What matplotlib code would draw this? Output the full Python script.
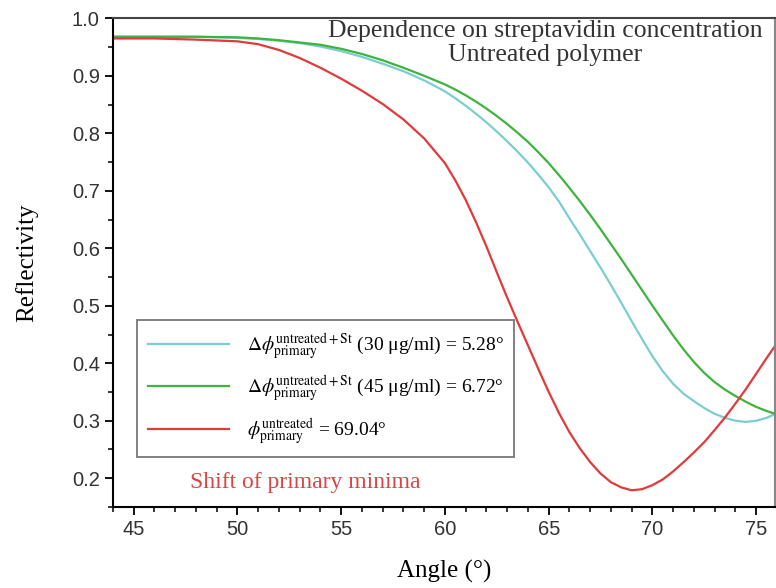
import matplotlib
matplotlib.use('Agg')
import matplotlib.pyplot as plt
from matplotlib.ticker import MultipleLocator

plt.rcParams['font.family'] = ['Liberation Serif', 'DejaVu Serif']
plt.rcParams['mathtext.fontset'] = 'stix'

# angle grid (degrees)
angle = [44, 46, 48, 50, 51, 52, 53, 54, 55, 56, 57, 58, 59, 60,
         60.5, 61, 61.5, 62, 62.5, 63, 63.5, 64, 64.5, 65, 65.5, 66, 66.5,
         67, 67.5, 68, 68.5, 69, 69.5, 70, 70.5, 71, 71.5, 72, 72.5, 73,
         73.5, 74, 74.5, 75, 75.5, 76]

refl_30 = [.968, .968, .968, .966, .964, .961, .957, .951, .943, .933, .921, .908, .892, .873,
           .861, .848, .834, .819, .803, .786, .768, .749, .728, .706, .681, .652, .624,
           .595, .566, .536, .505, .473, .442, .412, .386, .364, .347, .334, .322, .312,
           .305, .300, .298, .300, .305, .313]

refl_45 = [.968, .968, .968, .967, .965, .962, .958, .954, .947, .938, .927, .914, .900, .885,
           .876, .866, .855, .843, .830, .816, .801, .785, .767, .748, .727, .705, .682,
           .658, .633, .607, .581, .554, .527, .500, .474, .448, .424, .402, .383, .367,
           .354, .343, .333, .324, .317, .311]

refl_untreated = [.965, .965, .963, .960, .955, .945, .931, .914, .895, .874, .851, .824, .791, .748,
                  .718, .684, .645, .603, .558, .514, .472, .431, .390, .350, .313, .280, .252,
                  .228, .208, .193, .184, .179, .181, .188, .198, .212, .228, .245, .263, .284,
                  .306, .330, .355, .382, .409, .435]

labels = [r'$\Delta\phi^{\mathrm{untreated+St}}_{\mathrm{primary}}$ (30 μg/ml) = 5.28°',
          r'$\Delta\phi^{\mathrm{untreated+St}}_{\mathrm{primary}}$ (45 μg/ml) = 6.72°',
          r'$\phi^{\mathrm{untreated}}_{\mathrm{primary}}$ = 69.04°']
colors = ['#7ccdd0', '#3db43d', '#e03a3a']

fig = plt.figure(figsize=(7.76, 5.88), dpi=100)
ax = fig.add_axes([0.1456, 0.1378, 0.853, 0.831])

for y, lab, c in zip([refl_30, refl_45, refl_untreated], labels, colors):
    ax.plot(angle, y, color=c, lw=1.6, label=lab)

ax.set_xlim(44, 75.9)
ax.set_ylim(0.15, 1.0)
ax.xaxis.set_major_locator(MultipleLocator(5))
ax.xaxis.set_minor_locator(MultipleLocator(1))
ax.yaxis.set_major_locator(MultipleLocator(0.1))
ax.yaxis.set_minor_locator(MultipleLocator(0.05))
ax.tick_params(which='major', direction='out', length=6, width=1.3, labelsize=14.5)
ax.tick_params(which='minor', direction='out', length=3.5, width=1.1)
ax.yaxis.set_major_formatter(plt.FuncFormatter(lambda v, p: f'{v:.1f}'))
for lab in ax.get_xticklabels() + ax.get_yticklabels():
    lab.set_family('Liberation Sans')
    lab.set_color('#333333')
for s in ax.spines.values():
    s.set_linewidth(1.5)
ax.spines['right'].set_color('#888888')
ax.spines['top'].set_color('#444444')

ax.set_xlabel('Angle (°)', fontsize=18, labelpad=15)
ax.set_ylabel('Reflectivity', fontsize=18, labelpad=24)

ax.text(0.653, 0.997, 'Dependence on streptavidin concentration\nUntreated polymer',
        transform=ax.transAxes, ha='center', va='top', fontsize=18.5, color='#333333',
        linespacing=1.1)
ax.text(0.116, 0.051, 'Shift of primary minima', transform=ax.transAxes,
        ha='left', va='center', fontsize=17, color='#d94444')

leg = ax.legend(loc='upper left', bbox_to_anchor=(0.036, 0.382), fontsize=14,
                fancybox=False, framealpha=1, edgecolor='#777777',
                handlelength=4.2, handletextpad=0.9, labelspacing=0.6,
                borderpad=0.55, borderaxespad=0)
leg.get_frame().set_linewidth(1.3)

fig.savefig('out.png', dpi=100)
